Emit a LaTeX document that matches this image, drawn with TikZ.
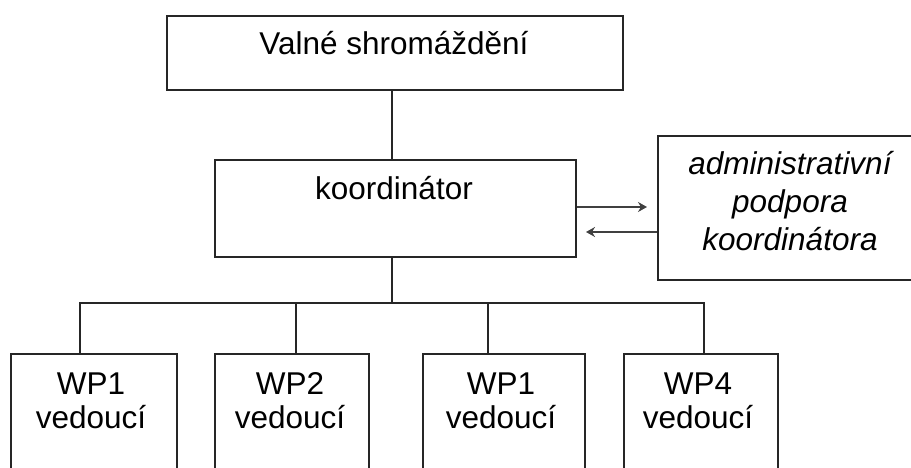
\documentclass[tikz,border=0pt]{standalone}
\usepackage{fontspec}
\setmainfont{Liberation Sans}
\usetikzlibrary{arrows.meta}
\begin{document}
\begin{tikzpicture}[x=1pt,y=-1pt,
  box/.style={draw=black!85, line width=1.7pt, inner sep=0pt, anchor=north west},
  lbl/.style={inner sep=0pt, anchor=base, align=center, font=\fontsize{31.5}{37}\selectfont},
  conn/.style={draw=black!85, line width=1.7pt},
  arr/.style={draw=black!75, line width=1.7pt, -{Stealth[length=9pt,width=10pt,inset=3pt]}}]
\useasboundingbox (0,0) rectangle (911,468);
% boxes
\node[box, minimum width=456pt, minimum height=74pt] (vs) at (166,15) {};
\node[box, minimum width=361pt, minimum height=97pt] (ko) at (214,159) {};
\node[box, minimum width=266pt, minimum height=144pt] (ad) at (657,135) {};
\node[box, minimum width=166pt, minimum height=140pt] (w1) at (10,353) {};
\node[box, minimum width=154pt, minimum height=140pt] (w2) at (214,353) {};
\node[box, minimum width=162pt, minimum height=140pt] (w3) at (422,353) {};
\node[box, minimum width=154pt, minimum height=140pt] (w4) at (623,353) {};
% texts (anchor base = baseline of the last line)
\node[lbl] (tvs) at (394,55) {Valné shromáždění};
\node[lbl] (tko) at (394,200) {koordinátor};
\node[lbl, font=\fontsize{31.5}{38}\selectfont\itshape] (tad) at (790,250) {administrativní\\podpora\\koordinátora};
\node[lbl, font=\fontsize{31.5}{34}\selectfont] (t1) at (91,428) {WP1\\vedoucí};
\node[lbl, font=\fontsize{31.5}{34}\selectfont] (t2) at (290,428) {WP2\\vedoucí};
\node[lbl, font=\fontsize{31.5}{34}\selectfont] (t3) at (501,428) {WP1\\vedoucí};
\node[lbl, font=\fontsize{31.5}{34}\selectfont] (t4) at (698,428) {WP4\\vedoucí};
% connectors
\coordinate (cv) at (392,303);
\coordinate (c1) at (80,303);
\coordinate (c2) at (296,303);
\coordinate (c3) at (488,303);
\coordinate (c4) at (704,303);
\draw[conn] (vs.south -| cv) -- (ko.north -| cv);
\draw[conn] (ko.south -| cv) -- (cv);
\draw[conn] (w1.north -| c1) -- (c1) -- (c4) -- (w4.north -| c4);
\draw[conn] (c2) -- (w2.north -| c2);
\draw[conn] (c3) -- (w3.north -| c3);
\coordinate (a1) at (647,207);
\coordinate (a2) at (586,232);
\draw[arr] (ko.east |- a1) -- (a1);
\draw[arr] (ad.west |- a2) -- (a2);
\end{tikzpicture}
\end{document}
